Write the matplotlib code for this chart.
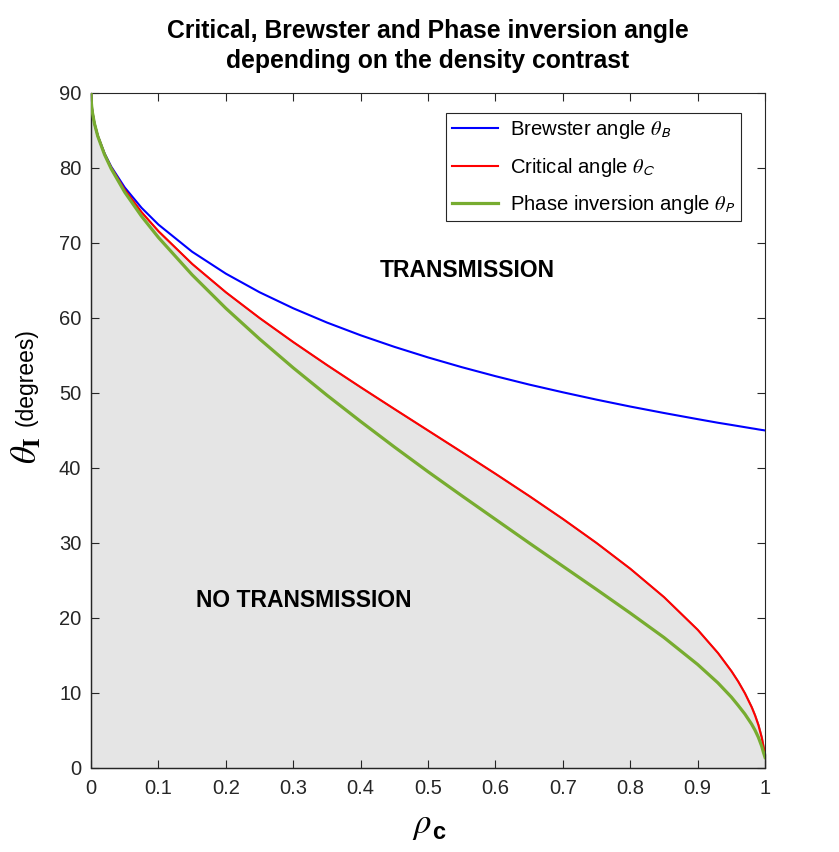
import numpy as np
import matplotlib
matplotlib.use("Agg")
import matplotlib.pyplot as plt
from matplotlib.font_manager import FontProperties

plt.rcParams['font.family'] = ['Liberation Sans', 'DejaVu Sans']

# density contrast values and angles (degrees)
rho = [0.0, 0.0005, 0.001, 0.002, 0.005, 0.01, 0.02, 0.03, 0.05, 0.075, 0.1,
       0.15, 0.2, 0.25, 0.3, 0.35, 0.4, 0.45, 0.5, 0.55, 0.6, 0.65, 0.7,
       0.75, 0.8, 0.85, 0.9, 0.93, 0.95, 0.96, 0.97, 0.98, 0.985, 0.99,
       0.995, 0.9975, 1.0]
brewster = [90.0, 88.72, 88.19, 87.44, 85.96, 84.29, 81.95, 80.17, 77.40,
            74.68, 72.45, 68.83, 65.91, 63.43, 61.29, 59.39, 57.69, 56.15,
            54.74, 53.44, 52.24, 51.12, 50.09, 49.11, 48.19, 47.33, 46.51,
            46.03, 45.74, 45.59, 45.44, 45.29, 45.22, 45.14, 45.07, 45.04, 45.0]
critical = [90.0, 88.72, 88.19, 87.44, 85.95, 84.26, 81.87, 80.03, 77.08,
            74.10, 71.57, 67.21, 63.43, 60.0, 56.79, 53.73, 50.77, 47.87,
            45.0, 42.13, 39.23, 36.27, 33.21, 30.0, 26.57, 22.79, 18.43,
            15.34, 12.92, 11.54, 9.97, 8.13, 7.03, 5.74, 4.05, 2.87, 1.8]
phase_inv = [90.0, 88.72, 88.19, 87.43, 85.94, 84.23, 81.79, 79.88, 76.77,
             73.55, 70.73, 65.75, 61.29, 57.2, 53.35, 49.7, 46.2, 42.8,
             39.5, 36.3, 33.15, 30.0, 26.9, 23.8, 20.65, 17.4, 13.8,
             11.35, 9.45, 8.35, 7.2, 5.85, 5.05, 4.1, 2.9, 2.1, 1.4]

xticks = [0, 0.1, 0.2, 0.3, 0.4, 0.5, 0.6, 0.7, 0.8, 0.9, 1]
xticklabels = ['0', '0.1', '0.2', '0.3', '0.4', '0.5', '0.6', '0.7', '0.8', '0.9', '1']
yticks = [0, 10, 20, 30, 40, 50, 60, 70, 80, 90]

fig = plt.figure(figsize=(8.39, 8.52), dpi=100)
ax = fig.add_axes([0.1085, 0.0986, 0.8034, 0.7923])

# shaded "no transmission" region under the critical angle
ax.fill_between(rho, critical, 0, facecolor='#e5e5e5', edgecolor='#808080',
                linewidth=1.2, zorder=1, clip_on=False)

ax.plot(rho, brewster, color='#0000ff', lw=1.5, label=r'Brewster angle $\theta_{\mathsf{B}}$', zorder=3)
ax.plot(rho, critical, color='#ff0000', lw=1.5, label=r'Critical angle $\theta_{\mathsf{C}}$', zorder=3)
ax.plot(rho, phase_inv, color='#77ac30', lw=2.3, label=r'Phase inversion angle $\theta_{\mathsf{P}}$', zorder=4)

ax.set_xlim(0, 1)
ax.set_ylim(0, 90)
ax.set_xticks(xticks)
ax.set_xticklabels(xticklabels)
ax.set_yticks(yticks)
ax.tick_params(direction='in', length=6, width=0.8, top=True, right=True,
               labelsize=14.5, colors='#262626')
ax.tick_params(axis='x', pad=8)
ax.tick_params(axis='y', pad=7)
for s in ax.spines.values():
    s.set_color('#262626')
    s.set_linewidth(0.8)

ax.text(0.558, 66.3, 'TRANSMISSION', fontsize=16.5, fontweight='bold',
        ha='center', va='center')
ax.text(0.315, 22.3, 'NO TRANSMISSION', fontsize=16.5, fontweight='bold',
        ha='center', va='center')

leg_font = FontProperties(family='Liberation Sans', size=14.6, math_fontfamily='stix')
leg = ax.legend(loc='upper right', bbox_to_anchor=(0.9644, 0.9704), borderaxespad=0,
                prop=leg_font, fancybox=False, framealpha=1, edgecolor='#262626',
                handlelength=2.3, handletextpad=0.6, labelspacing=0.72, borderpad=0.25)
leg.get_frame().set_linewidth(0.8)

ax.set_title('Critical, Brewster and Phase inversion angle\ndepending on the density contrast',
             fontsize=17.8, fontweight='bold', pad=18, linespacing=1.3)

# axis labels in MATLAB tex style
ax.text(0.506, -0.085, r'$\rho$', transform=ax.transAxes, fontsize=25,
        ha='right', va='center', math_fontfamily='stix')
ax.text(0.506, -0.096, 'c', transform=ax.transAxes, fontsize=17,
        fontweight='bold', ha='left', va='center')
ax.text(-0.096, 0.471, r'$\theta_{\mathbf{I}}$', transform=ax.transAxes, fontsize=25,
        ha='center', va='center', rotation=90, math_fontfamily='stix')
ax.text(-0.096, 0.579, '(degrees)', transform=ax.transAxes, fontsize=16.5,
        ha='center', va='center', rotation=90)

fig.savefig('out.png', dpi=100)
